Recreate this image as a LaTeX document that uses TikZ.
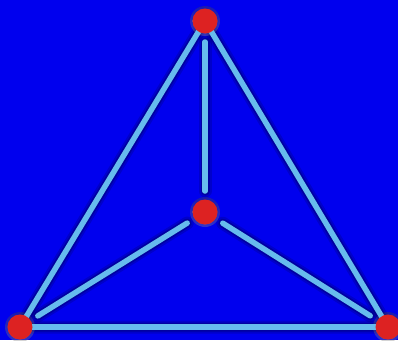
\documentclass[tikz,border=0pt]{standalone}
\definecolor{bg}{HTML}{0000EE}
\definecolor{edgeblue}{HTML}{66BBEE}
\definecolor{dotred}{HTML}{DD2222}
\definecolor{shade}{HTML}{000040}
\begin{document}
\begin{tikzpicture}[x=1pt,y=-1pt,
  vertex/.style={circle,fill=dotred,minimum size=25pt,inner sep=0pt},
  edge/.style={draw=edgeblue,line width=5.5pt,line cap=round},
  shadowA/.style={draw=shade,line width=13pt,line cap=round,opacity=0.2},
  shadowB/.style={draw=shade,line width=9pt,line cap=round,opacity=0.3},
  shadowC/.style={draw=shade,line width=5pt,line cap=round,opacity=0.4},
  short/.style={shorten <=21pt,shorten >=21pt}]
\fill[bg] (0,0) rectangle (398,340);
\useasboundingbox (0,0) rectangle (398,340);
\coordinate (T) at (205,21);
\coordinate (C) at (205,212);
\coordinate (L) at (20,327);
\coordinate (R) at (388,327);
% shadows
\begin{scope}[shift={(6,5)}]
  \foreach \s in {shadowA,shadowB,shadowC}{
    \path[\s] (T) -- (L) -- (R) -- cycle;
    \path[\s,short] (T) -- (C);
    \path[\s,short] (C) -- (L);
    \path[\s,short] (C) -- (R);
  }
  \foreach \p in {T,C,L,R}{
    \fill[shade,opacity=0.2] (\p) circle (15pt);
    \fill[shade,opacity=0.3] (\p) circle (12.5pt);
    \fill[shade,opacity=0.35] (\p) circle (10pt);
  }
\end{scope}
% edges
\draw[edge] (T) -- (L);
\draw[edge] (T) -- (R);
\draw[edge] (L) -- (R);
\draw[edge,short] (T) -- (C);
\draw[edge,short] (C) -- (L);
\draw[edge,short] (C) -- (R);
% vertices
\node[vertex] (t) at (T) {};
\node[vertex] (c) at (C) {};
\node[vertex] (l) at (L) {};
\node[vertex] (r) at (R) {};
\end{tikzpicture}
\end{document}
